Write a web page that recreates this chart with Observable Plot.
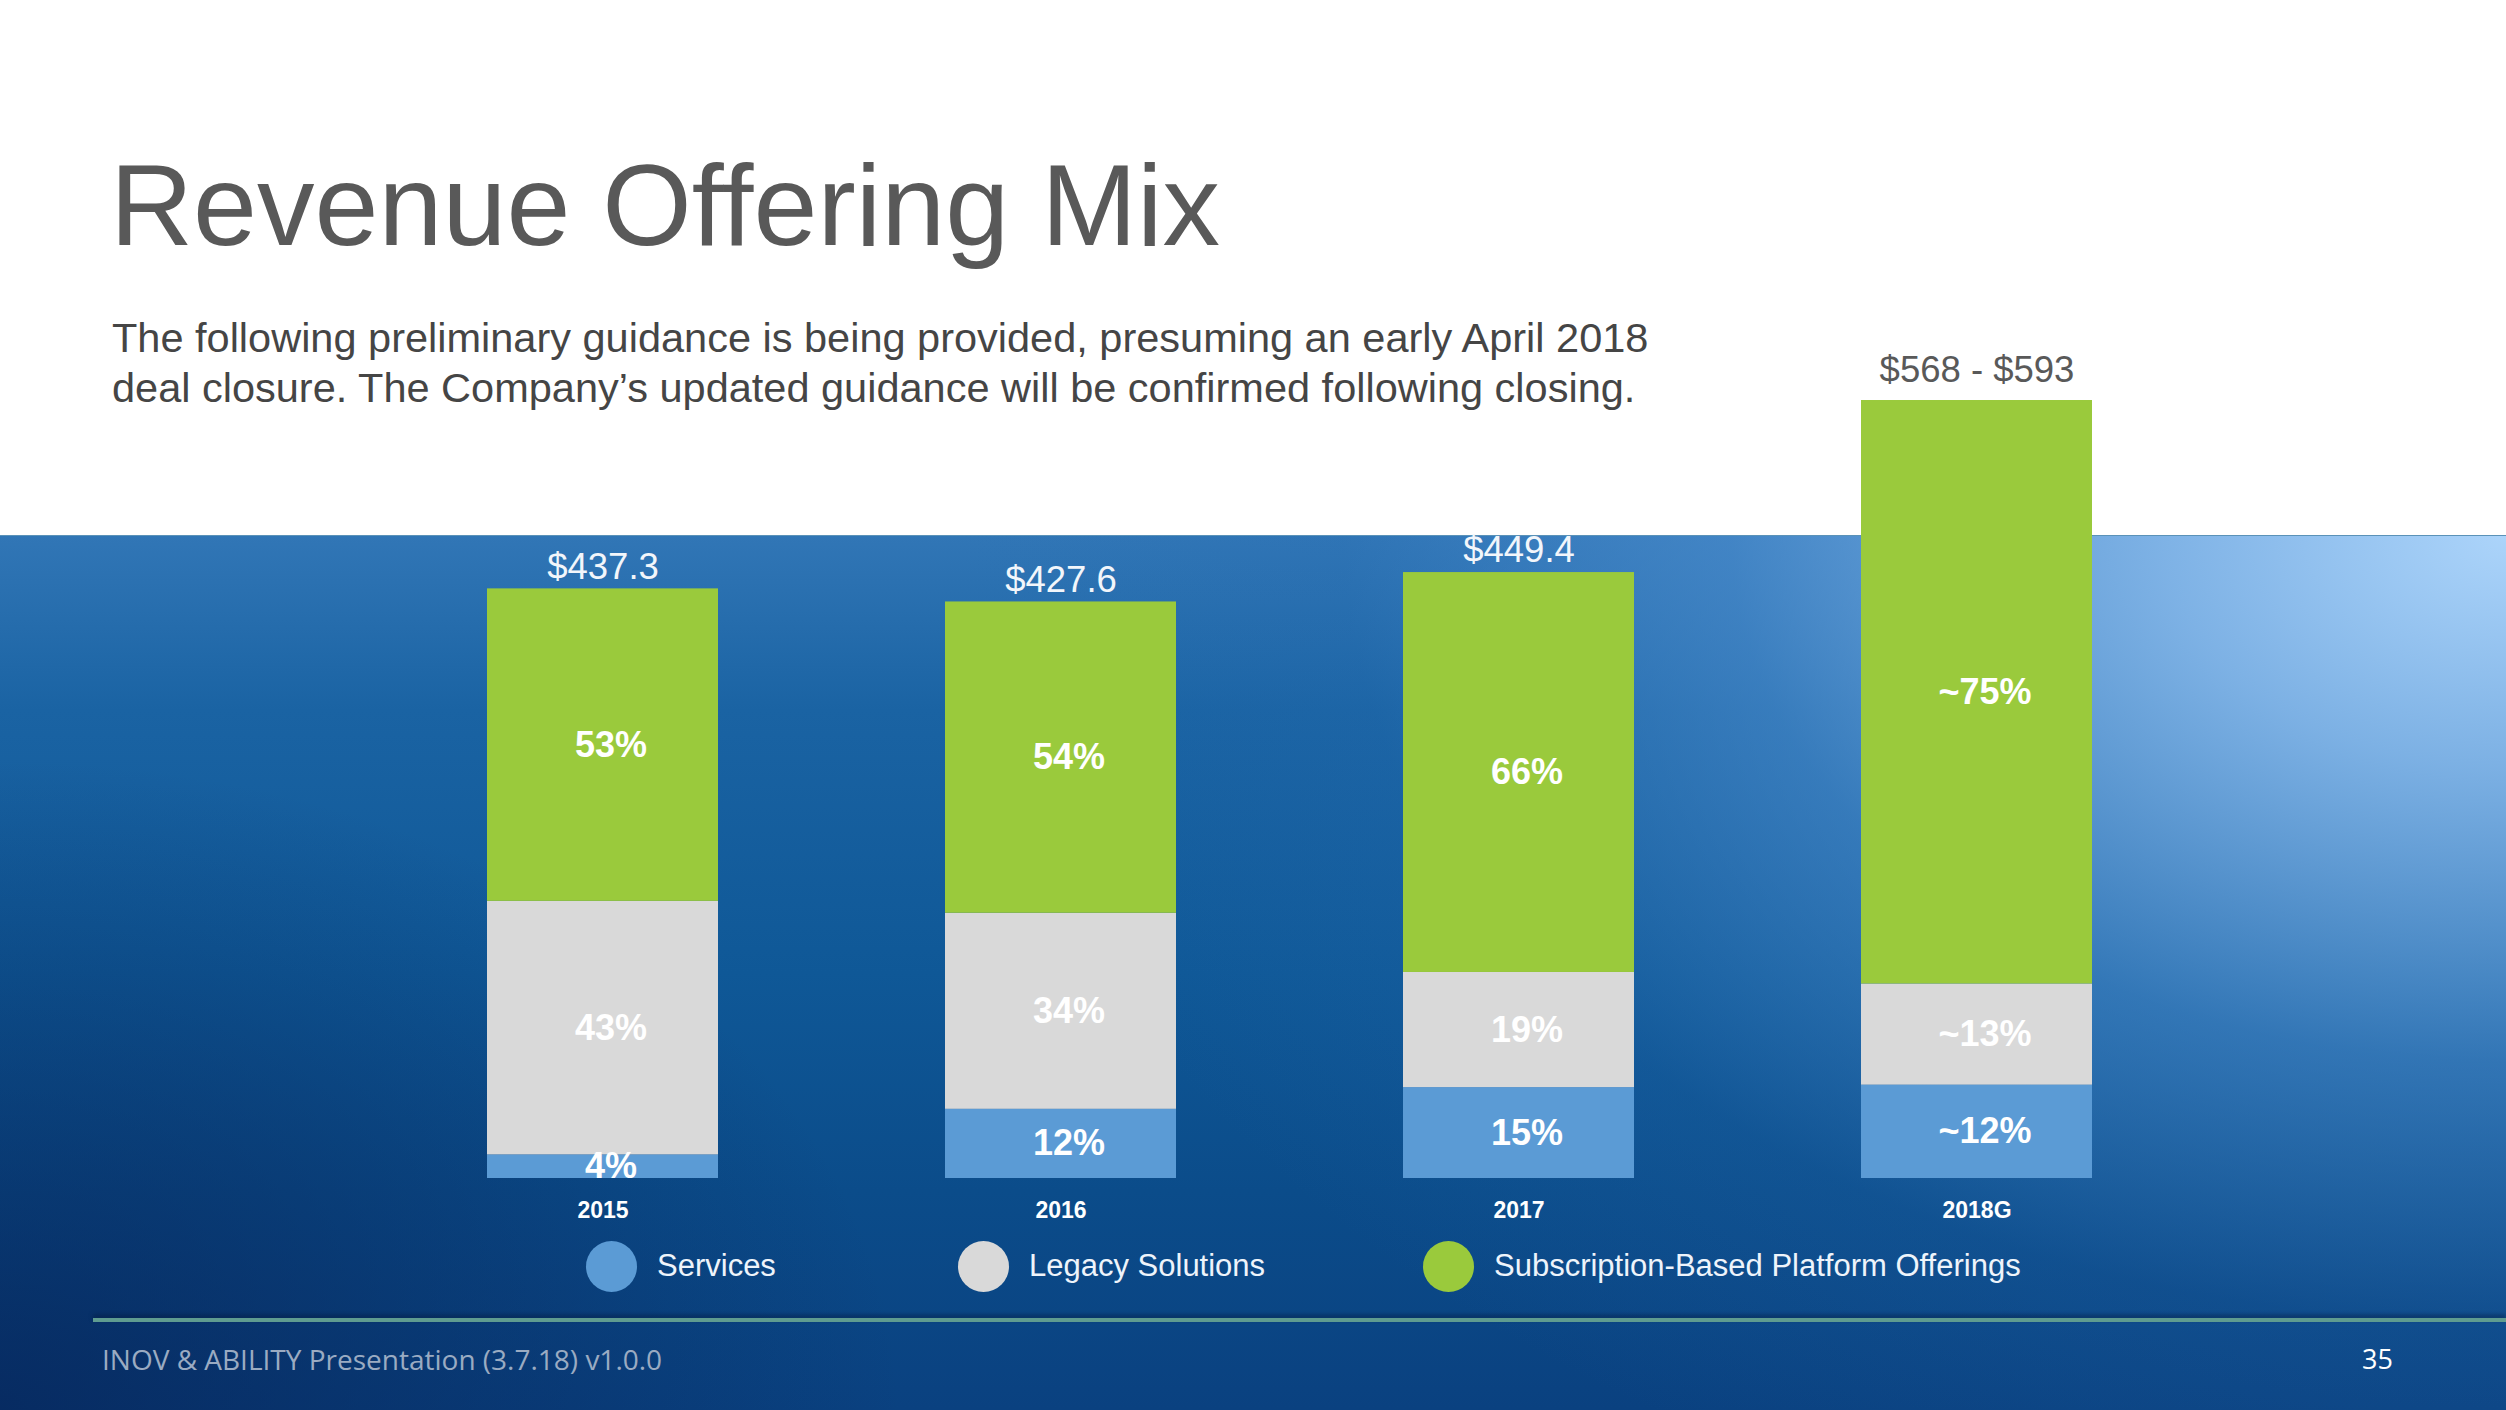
<!DOCTYPE html>
<html>
<head>
<meta charset="utf-8">
<script src="https://cdn.jsdelivr.net/npm/d3@7"></script>
<script src="https://cdn.jsdelivr.net/npm/@observablehq/plot@0.6"></script>
<style>
  html, body { margin: 0; padding: 0; width: 2506px; height: 1410px; overflow: hidden; background: #ffffff; font-family: "Liberation Sans", Arial, sans-serif; }
  #bg {
    position: absolute; left: 0; top: 535px; width: 2506px; height: 875px;
    background:
      radial-gradient(ellipse 900px 650px at 0% 100%, rgba(6,36,88,0.75) 0%, rgba(6,36,88,0) 100%),
      radial-gradient(ellipse 1550px 1050px at 100% 0%, rgba(172,212,250,1) 0%, rgba(135,185,235,0.9) 22%, rgba(80,145,210,0.55) 50%, rgba(40,110,180,0.2) 75%, rgba(30,100,170,0) 100%),
      linear-gradient(to bottom, #3176b6 0%, #1a63a3 20%, #0f5897 50%, #0b4c8a 75%, #0a4180 100%);
    border-top: 1px solid #5a92b8;
    box-sizing: border-box;
  }
  #title { position: absolute; left: 110px; top: 148px; font-size: 115px; line-height: 115px; color: #595959; white-space: nowrap; }
  #subtitle { position: absolute; left: 112px; top: 313px; font-size: 41.5px; line-height: 50px; color: #454545; white-space: nowrap; }
  #chart { position: absolute; left: 0; top: 330px; }
  #chart svg { overflow: visible; }
  #chart svg g[aria-label^="x-axis"] text { font-weight: bold; }
  .legend-item { position: absolute; top: 1240px; height: 52px; display: flex; align-items: center; font-size: 31px; color: #eef4fb; white-space: nowrap; }
  .legend-item .sw { width: 51px; height: 51px; border-radius: 50%; margin-right: 20px; flex: none; }
  #rule { position: absolute; left: 93px; top: 1318px; width: 2413px; height: 4px; background: #5f9c90; box-shadow: 0 -3px 4px rgba(3,25,60,0.55); }
  #footer { position: absolute; left: 102px; top: 1341px; font-family: "Open Sans", sans-serif; font-size: 28px; line-height: 36px; color: #9aabc2; white-space: nowrap; }
  #page { position: absolute; left: 2362px; top: 1341px; font-family: "Open Sans", sans-serif; font-size: 27px; line-height: 36px; color: #ffffff; }
</style>
</head>
<body>
<div id="bg"></div>
<div id="title">Revenue Offering Mix</div>
<div id="subtitle">The following preliminary guidance is being provided, presuming an early April 2018<br>deal closure. The Company’s updated guidance will be confirmed following closing.</div>
<div id="chart"></div>
<div id="legend"></div>
<div id="rule"></div>
<div id="footer">INOV &amp; ABILITY Presentation (3.7.18) v1.0.0</div>
<div id="page">35</div>
<script>
// ---- Data ----
const years = ["2015", "2016", "2017", "2018G"];
const totals = [437.3, 427.6, 449.4, 577];             // $M (2018G bar height as drawn for the guidance range)
const totalLabels = ["$437.3", "$427.6", "$449.4", "$568 - $593"];
const servicesPct = [4, 12, 15, 12];
const legacyPct = [43, 34, 19, 13];
const subscriptionPct = [53, 54, 66, 75];
const approximate = [false, false, false, true];
const segments = ["Services", "Legacy Solutions", "Subscription-Based Platform Offerings"];

// ---- Styles ----
const segmentColors = ["#5b9bd5", "#d9d9d9", "#9aca3c"];
const legendLeft = [586, 958, 1423];

// ---- Build tables ----
const pctSeries = [servicesPct, legacyPct, subscriptionPct];
const rows = [];
years.forEach((year, i) => {
  segments.forEach((segment, j) => {
    const pct = pctSeries[j][i];
    rows.push({
      year, segment, pct,
      value: totals[i] * pct / 100,
      label: (approximate[i] ? "~" : "") + pct + "%"
    });
  });
});
const totalRows = years.map((year, i) => ({year, total: totals[i], label: totalLabels[i], guidance: approximate[i]}));

const chart = Plot.plot({
  width: 2506,
  height: 900,
  marginLeft: 260,
  marginRight: 186,
  marginTop: 39,
  marginBottom: 52,
  style: {background: "transparent", fontFamily: "Liberation Sans, Arial, sans-serif", fontSize: "23px", color: "#ffffff", overflow: "visible"},
  x: {domain: years, padding: 0.495, tickSize: 0, tickPadding: 23, label: null},
  y: {domain: [0, 600], axis: null},
  color: {domain: segments, range: segmentColors},
  marks: [
    Plot.barY(rows, {x: "year", y: "value", fill: "segment"}),
    Plot.text(rows, Plot.stackY({x: "year", y: "value", z: "segment", text: "label", fill: "#ffffff", fontSize: 36, fontWeight: "bold", dx: 8})),
    Plot.text(totalRows.filter(d => !d.guidance), {x: "year", y: "total", text: "label", dy: -22, fill: "#f2f6fb", fontSize: 36.5}),
    Plot.text(totalRows.filter(d => d.guidance), {x: "year", y: "total", text: "label", dy: -30, fill: "#595959", fontSize: 36.5})
  ]
});
document.getElementById("chart").appendChild(chart);

// ---- Legend ----
const legend = document.getElementById("legend");
segments.forEach((segment, j) => {
  const item = document.createElement("div");
  item.className = "legend-item";
  item.style.left = legendLeft[j] + "px";
  const sw = document.createElement("span");
  sw.className = "sw";
  sw.style.background = segmentColors[j];
  const tx = document.createElement("span");
  tx.textContent = segment;
  item.appendChild(sw);
  item.appendChild(tx);
  legend.appendChild(item);
});
</script>
</body>
</html>
